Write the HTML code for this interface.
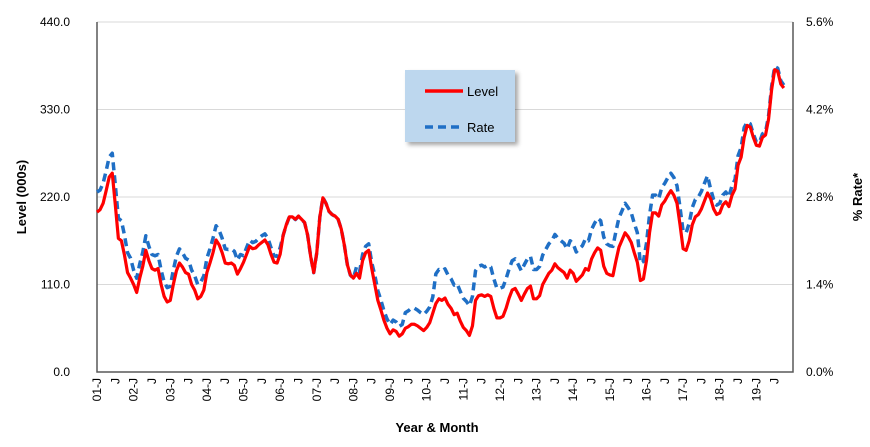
<!DOCTYPE html>
<html><head><meta charset="utf-8"><style>
body{margin:0;background:#fff;}
svg text{font-family:"Liberation Sans",Arial,sans-serif;}
</style></head><body>
<svg id="chart" width="870" height="442" viewBox="0 0 870 442" xmlns="http://www.w3.org/2000/svg">
<defs><filter id="sh" x="-20%" y="-20%" width="150%" height="150%"><feDropShadow dx="3" dy="3" stdDeviation="2" flood-color="#000" flood-opacity="0.35"/></filter></defs>
<g id="grid"></g>
<g id="axes"></g>
<g id="series"></g>
<g>
<rect x="405" y="70" width="110" height="72" fill="#bdd7ee" filter="url(#sh)"/>
<line x1="425" y1="91" x2="463" y2="91" stroke="#ff0000" stroke-width="3.5"/>
<text x="467" y="96" font-size="13">Level</text>
<line x1="425" y1="127" x2="463" y2="127" stroke="#1f6fc5" stroke-width="3.5" stroke-dasharray="8,5"/>
<text x="467" y="132" font-size="13">Rate</text>
</g>
<text transform="translate(26,197) rotate(-90)" text-anchor="middle" font-size="13" font-weight="bold">Level (000s)</text>
<text transform="translate(862,197) rotate(-90)" text-anchor="middle" font-size="13" font-weight="bold">% Rate*</text>
<text x="437" y="432" text-anchor="middle" font-size="13" font-weight="bold">Year &amp; Month</text>
</svg>
<script>
const leftTicks=[0,110,220,330,440];
const leftTickLabels=["0.0","110.0","220.0","330.0","440.0"];
const rightTicks=[0,1.4,2.8,4.2,5.6];
const rightTickLabels=["0.0%","1.4%","2.8%","4.2%","5.6%"];
const years=["01","02","03","04","05","06","07","08","09","10","11","12","13","14","15","16","17","18","19"];
const levelValues=[201,204,212,228,245,250,210,168,165,147,125,118,
110,100,118,133,153,140,130,128,130,110,95,88,90,110,127,137,132,125,123,110,103,92,95,103,125,137,150,166,160,150,137,136,137,134,123,130,
138,148,158,155,156,160,163,166,160,148,138,137,148,
172,185,195,195,192,196,192,188,172,145,125,150,195,219,212,202,198,196,192,180,160,135,122,118,124,118,140,150,153,130,
110,90,78,65,55,48,53,51,45,48,
55,57,60,60,58,55,52,56,62,74,
86,92,90,93,85,80,72,74,64,56,52,46,58,90,96,97,95,97,95,80,68,68,70,80,93,103,105,98,90,98,105,108,92,92,96,110,117,124,128,136,131,128,125,118,128,124,114,118,122,130,128,142,150,156,153,133,124,122,121,140,157,166,175,170,163,150,138,
115,117,140,175,200,200,196,210,215,222,228,222,212,185,155,153,165,185,195,198,205,215,225,
218,205,198,200,210,214,208,222,230,260,270,295,
310,308,295,285,284,295,298,318,355,380,378,362,357];
const rateValues=[2.88,2.91,3.02,3.22,3.44,3.50,2.99,2.46,2.42,2.19,1.91,1.82,
1.63,1.50,1.73,1.92,2.18,2.01,1.88,1.86,1.88,1.63,1.44,1.35,1.37,1.63,1.85,1.97,1.91,1.82,1.79,1.63,1.54,1.40,1.44,1.54,1.82,1.97,2.14,2.34,2.27,2.14,1.97,1.96,1.97,1.93,1.79,1.88,
1.86,1.99,2.11,2.07,2.09,2.14,2.18,2.21,2.14,1.99,1.86,1.85,1.99,
2.19,2.35,2.48,2.48,2.44,2.49,2.44,2.39,2.19,1.85,1.59,1.91,2.48,2.79,2.70,2.57,2.52,2.49,2.44,2.29,2.04,1.72,1.55,1.50,1.68,1.60,1.88,2.01,2.05,1.75,
1.55,1.30,1.15,0.98,0.85,0.76,0.83,0.80,0.73,0.76,
0.95,0.98,1.02,1.02,0.99,0.95,0.92,0.97,1.04,1.20,
1.57,1.64,1.62,1.65,1.55,1.49,1.39,1.41,1.29,1.18,1.13,1.06,1.21,1.62,1.69,1.71,1.68,1.71,1.68,1.49,1.34,1.34,1.36,1.49,1.65,1.78,1.81,1.72,1.62,1.72,1.81,1.85,1.64,1.64,1.69,1.87,1.96,2.05,2.10,2.20,2.14,2.10,2.06,1.97,2.10,2.05,1.92,1.97,2.02,2.13,2.10,2.28,2.38,2.46,2.42,2.16,2.05,2.02,2.01,2.25,2.47,2.58,2.70,2.63,2.55,2.38,2.23,
1.74,1.77,2.06,2.51,2.83,2.83,2.77,2.95,3.02,3.11,3.18,3.11,2.98,2.63,2.25,2.23,2.38,2.63,2.76,2.80,2.89,3.02,3.14,
2.93,2.76,2.67,2.70,2.83,2.88,2.80,2.98,3.08,3.46,3.59,3.91,
4.00,3.97,3.81,3.68,3.67,3.81,3.84,4.10,4.57,4.89,4.86,4.66,4.59];

const NS="http://www.w3.org/2000/svg";
const X0=97,X1=793,Y0=372,Y1=22,NM=228;
const xScale=i=>X0+i*(X1-X0)/NM;
const yL=v=>Y0-(v/440)*(Y0-Y1);
const yR=v=>Y0-(v/5.6)*(Y0-Y1);
function mk(tag,attrs,parent){const e=document.createElementNS(NS,tag);for(const k in attrs)e.setAttribute(k,attrs[k]);parent.appendChild(e);return e;}
const grid=document.getElementById('grid'),axes=document.getElementById('axes'),series=document.getElementById('series');
leftTicks.forEach((t,i)=>{
 if(t>0){const g=mk('line',{x1:X0,x2:X1,y1:yL(t),y2:yL(t),stroke:'#d9d9d9','stroke-width':1},grid);
 
 }
 const tx=mk('text',{x:70,y:yL(t)+4,'text-anchor':'end','font-size':12},axes);tx.textContent=leftTickLabels[i];
 
 
});
rightTicks.forEach((t,i)=>{
 const tx=mk('text',{x:806,y:yR(t)+4,'font-size':12},axes);tx.textContent=rightTickLabels[i];
 
 
});
const al=mk('path',{d:`M${X0},${Y1}V${Y0}H${X1}V${Y1}`,fill:'none',stroke:'#595959','stroke-width':1.5},axes);


years.forEach((y,k)=>{
 [[0,y+"-J"],[6,"J"]].forEach(([m,lab])=>{
  const x=xScale(k*12+m);
  const tx=mk('text',{transform:`translate(${x+4},${Y0+6}) rotate(-90)`,'text-anchor':'end','font-size':12},axes);
  tx.textContent=lab;
  
  
 });
});
function line(vals,ys,attrs,name){
 const d=vals.map((v,i)=>(i?'L':'M')+xScale(i).toFixed(2)+','+ys(v).toFixed(2)).join('');
 const p=mk('path',Object.assign({d,fill:'none','stroke-linejoin':'round'},attrs),series);
 
 
}
line(rateValues,yR,{stroke:'#1f6fc5','stroke-width':3.5,'stroke-dasharray':'8,5'},'rate-line');
line(levelValues,yL,{stroke:'#ff0000','stroke-width':3.2},'level-line');
</script>
</body></html>
